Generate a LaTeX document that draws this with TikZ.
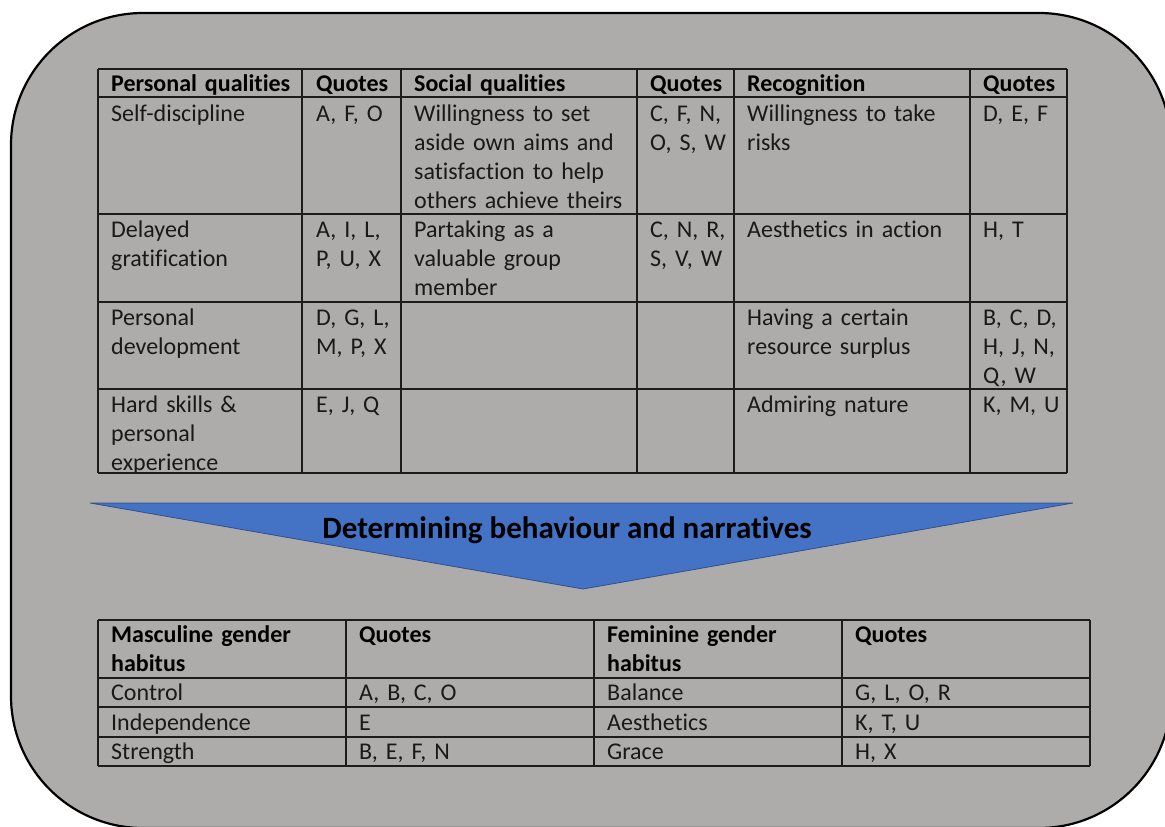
\documentclass[tikz,border=0pt]{standalone}
\usepackage{fontspec}
\setmainfont{Carlito}[Ligatures=NoCommon, RawFeature=-clig]
\definecolor{bgfill}{RGB}{174,171,171}
\definecolor{trifill}{RGB}{68,114,196}
\definecolor{triedge}{RGB}{47,82,143}
\definecolor{gridc}{RGB}{28,28,28}
\definecolor{txt}{RGB}{25,25,25}
\tikzset{
  cell/.style={anchor=base west, inner sep=0pt, text width=300pt, align=left,
    font=\fontsize{24}{29}\selectfont, text=txt},
  hcell/.style={cell, font=\fontsize{24}{29}\selectfont\bfseries, text=black},
  gridline/.style={draw=gridc, line width=1.3pt},
  outline/.style={draw=black, line width=2.2pt, fill=bgfill},
  arrowtri/.style={fill=trifill, draw=triedge, line width=0.8pt},
  title/.style={inner sep=0pt, anchor=base, font=\fontsize{31}{36}\selectfont\bfseries, text=black}
}
\begin{document}
\begin{tikzpicture}[x=1pt,y=-1pt]
\useasboundingbox (0,0) rectangle (1165,827);
\fill[white] (0,0) rectangle (1165,827);
\begin{scope}
\clip (0,0) rectangle (1165,827);
\draw[outline, rounded corners=132pt] (11,13) rectangle (1171,828);
\end{scope}

% ---------- top table grid ----------
\foreach \yy in {69,97,214,302,389,473} \draw[gridline] (98,\yy) -- (1067,\yy);
\foreach \xx in {98,302,401,637,734,970,1067} \draw[gridline] (\xx,69) -- (\xx,473);

% header
\node[hcell] (h1) at (111,91) {Personal qualities};
\node[hcell] (h2) at (316,91) {Quotes};
\node[hcell] (h3) at (414,91) {Social qualities};
\node[hcell] (h4) at (650,91) {Quotes};
\node[hcell] (h5) at (747,91) {Recognition};
\node[hcell] (h6) at (983,91) {Quotes};

% row 1
\node[cell] (r1c1) at (111,121) {Self-discipline};
\node[cell] (r1c2) at (316,121) {A, F, O};
\node[cell] (r1c3) at (414,121) {Willingness to set\\aside own aims and\\satisfaction to help\\others achieve theirs};
\node[cell] (r1c4) at (650,121) {C, F, N,\\O, S, W};
\node[cell] (r1c5) at (747,121) {Willingness to take\\risks};
\node[cell] (r1c6) at (983,121) {D, E, F};

% row 2
\node[cell] (r2c1) at (111,237) {Delayed\\gratification};
\node[cell] (r2c2) at (316,237) {A, I, L,\\P, U, X};
\node[cell] (r2c3) at (414,237) {Partaking as a\\valuable group\\member};
\node[cell] (r2c4) at (650,237) {C, N, R,\\S, V, W};
\node[cell] (r2c5) at (747,237) {Aesthetics in action};
\node[cell] (r2c6) at (983,237) {H, T};

% row 3
\node[cell] (r3c1) at (111,325) {Personal\\development};
\node[cell] (r3c2) at (316,325) {D, G, L,\\M, P, X};
\node[cell] (r3c5) at (747,325) {Having a certain\\resource surplus};
\node[cell] (r3c6) at (983,325) {B, C, D,\\H, J, N,\\Q, W};

% row 4
\node[cell] (r4c1) at (111,412) {Hard skills \&\\personal\\experience};
\node[cell] (r4c2) at (316,412) {E, J, Q};
\node[cell] (r4c5) at (747,412) {Admiring nature};
\node[cell] (r4c6) at (983,412) {K, M, U};

% ---------- triangle ----------
\coordinate (tl) at (90,503);
\coordinate (tr) at (1073,503);
\coordinate (tb) at (583,589);
\draw[arrowtri] (tl) -- (tr) -- (tb) -- cycle;
\node[title] (ttl) at (567,538) {Determining behaviour and narratives};

% ---------- bottom table grid ----------
\foreach \yy in {620,678,707,737,766} \draw[gridline] (98,\yy) -- (1090,\yy);
\foreach \xx in {98,346,594,842,1090} \draw[gridline] (\xx,620) -- (\xx,766);

\node[hcell] (bh1) at (111,642) {Masculine gender\\habitus};
\node[hcell] (bh2) at (359,642) {Quotes};
\node[hcell] (bh3) at (607,642) {Feminine gender\\habitus};
\node[hcell] (bh4) at (855,642) {Quotes};

\node[cell] (b1c1) at (111,700) {Control};
\node[cell] (b1c2) at (359,700) {A, B, C, O};
\node[cell] (b1c3) at (607,700) {Balance};
\node[cell] (b1c4) at (855,700) {G, L, O, R};

\node[cell] (b2c1) at (111,730) {Independence};
\node[cell] (b2c2) at (359,730) {E};
\node[cell] (b2c3) at (607,730) {Aesthetics};
\node[cell] (b2c4) at (855,730) {K, T, U};

\node[cell] (b3c1) at (111,759) {Strength};
\node[cell] (b3c2) at (359,759) {B, E, F, N};
\node[cell] (b3c3) at (607,759) {Grace};
\node[cell] (b3c4) at (855,759) {H, X};
\end{tikzpicture}
\end{document}
